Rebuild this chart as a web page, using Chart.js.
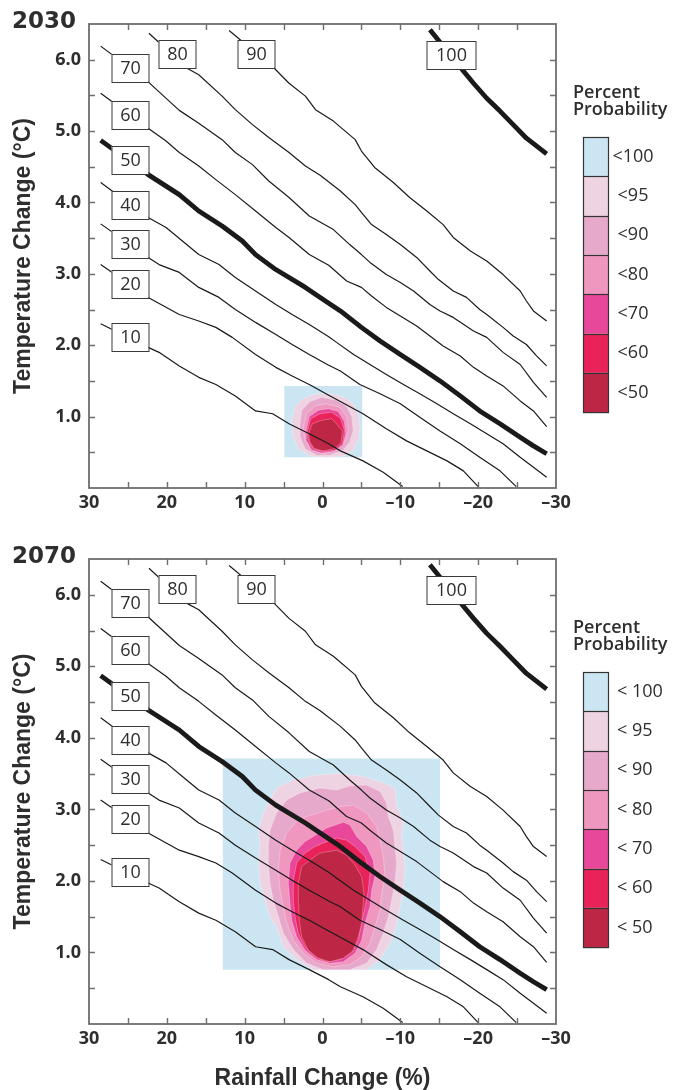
<!DOCTYPE html>
<html>
<head>
<meta charset="utf-8">
<script src="https://cdn.jsdelivr.net/npm/chart.js@4.4.0/dist/chart.umd.min.js"></script>
<style>
  body { margin: 0; background: #fff; }
  #wrap { position: relative; width: 685px; height: 1090px; }
  canvas { position: absolute; left: 0; }
  #c1 { top: 0; }
  #c2 { top: 535px; }
</style>
</head>
<body>
<div id="wrap">
  <canvas id="c1" width="685" height="535"></canvas>
  <canvas id="c2" width="685" height="555"></canvas>
</div>
<script>
// ---- data (rainfall change %, temperature change degC) ----
const xTickValues = [30, 20, 10, 0, -10, -20, -30];
const xTickLabels = ['30', '20', '10', '0', '\u201310', '\u201320', '\u201330'];
const yTickValues = [1, 2, 3, 4, 5, 6];
const yTickLabels = ['1.0', '2.0', '3.0', '4.0', '5.0', '6.0'];

const contourLevels = [10, 20, 30, 40, 50, 60, 70, 80, 90, 100];
const c10 = [[28.5,2.30],[22.4,1.97],[21.0,1.90],[18.4,1.71],[15.9,1.55],[13.7,1.45],[11.2,1.29],[8.6,1.08],[6.4,1.04],[4.3,0.90],[1.7,0.76],[-0.8,0.62],[-2.3,0.52],[-5.2,0.38],[-7.8,0.22],[-10.3,0.02]];
const c20 = [[28.5,3.13],[22.4,2.67],[18.4,2.43],[15.9,2.34],[13.7,2.25],[11.6,2.11],[8.6,1.87],[6.0,1.69],[3.9,1.57],[1.7,1.45],[-0.8,1.30],[-5.2,1.04],[-8.2,0.83],[-10.8,0.66],[-13.4,0.52],[-16.0,0.38],[-18.1,0.24],[-20.0,0.02]];
const c30 = [[28.5,3.70],[22.4,3.23],[21.0,3.13],[18.4,3.02],[15.9,2.81],[13.3,2.67],[11.2,2.50],[8.6,2.32],[6.0,2.15],[3.9,2.01],[1.7,1.87],[-0.8,1.72],[-2.3,1.64],[-4.8,1.45],[-7.4,1.32],[-10.0,1.18],[-12.5,0.99],[-15.1,0.80],[-17.7,0.62],[-20.2,0.43],[-22.8,0.24],[-24.9,0.02]];
const c40 = [[28.5,4.28],[22.4,3.79],[20.1,3.65],[18.0,3.46],[15.9,3.27],[13.3,3.13],[11.2,2.95],[8.6,2.76],[6.0,2.57],[3.9,2.43],[1.7,2.29],[-0.8,2.12],[-1.8,2.04],[-4.0,1.87],[-6.1,1.73],[-8.2,1.59],[-10.4,1.45],[-12.5,1.32],[-14.7,1.18],[-16.8,1.04],[-19.0,0.90],[-21.1,0.76],[-23.2,0.62],[-25.4,0.43],[-27.1,0.29],[-28.8,0.15]];
const c50 = [[28.5,4.87],[22.4,4.39],[18.4,4.11],[15.9,3.88],[12.9,3.67],[10.3,3.46],[8.6,3.27],[6.0,3.06],[2.2,2.81],[0.3,2.67],[-2.3,2.48],[-5.0,2.25],[-7.4,2.06],[-10.0,1.87],[-12.5,1.69],[-15.1,1.50],[-17.7,1.29],[-20.2,1.08],[-22.8,0.90],[-25.4,0.71],[-27.1,0.59],[-28.8,0.48]];
const c60 = [[28.5,5.53],[22.4,5.04],[20.1,4.86],[18.4,4.70],[15.9,4.51],[13.7,4.32],[11.2,4.11],[8.6,3.88],[6.0,3.65],[4.3,3.51],[1.7,3.27],[-0.8,3.12],[-3.1,2.90],[-5.0,2.81],[-6.3,2.69],[-8.2,2.53],[-10.0,2.41],[-12.1,2.27],[-13.8,2.13],[-15.5,1.99],[-17.7,1.85],[-19.4,1.69],[-21.1,1.57],[-23.2,1.43],[-25.4,1.22],[-27.1,1.08],[-28.8,0.86]];
const c70 = [[28.5,6.19],[22.4,5.69],[18.4,5.29],[15.9,5.11],[12.9,4.88],[11.2,4.70],[9.0,4.53],[6.9,4.30],[4.3,4.07],[1.7,3.81],[-1.4,3.62],[-3.5,3.41],[-5.0,3.27],[-6.1,3.16],[-8.2,2.99],[-10.0,2.88],[-11.7,2.76],[-13.8,2.57],[-15.1,2.48],[-16.8,2.39],[-19.4,2.20],[-21.1,2.11],[-23.2,1.90],[-25.4,1.73],[-27.1,1.48],[-28.8,1.27]];
const c80 = [[22.3,6.37],[17.4,5.88],[15.9,5.79],[12.9,5.49],[11.2,5.30],[9.0,5.09],[6.9,4.91],[4.3,4.70],[2.2,4.51],[0.3,4.38],[-2.3,4.16],[-4.2,3.97],[-5.0,3.86],[-6.3,3.69],[-8.2,3.55],[-10.0,3.41],[-12.1,3.23],[-13.8,3.04],[-14.9,2.92],[-16.8,2.76],[-18.5,2.67],[-20.2,2.50],[-21.1,2.43],[-23.2,2.25],[-24.5,2.13],[-26.2,2.01],[-27.5,1.85],[-28.8,1.71]];
const c90 = [[12.0,6.41],[6.2,5.88],[4.3,5.67],[2.2,5.49],[0.9,5.30],[-1.4,5.14],[-4.2,4.88],[-5.0,4.72],[-6.7,4.49],[-9.1,4.28],[-11.2,4.07],[-13.4,3.88],[-15.5,3.69],[-16.8,3.51],[-19.0,3.32],[-21.1,3.18],[-23.2,2.99],[-25.4,2.76],[-26.2,2.62],[-27.1,2.48],[-28.8,2.34]];
const c100 = [[-13.8,6.42],[-18.1,5.84],[-19.4,5.67],[-21.1,5.46],[-22.8,5.28],[-24.5,5.09],[-26.2,4.90],[-28.8,4.68]];
const contours = [c10, c20, c30, c40, c50, c60, c70, c80, c90, c100];

// where each contour carries its label
const labelX = [24.75, 24.75, 24.75, 24.75, 24.75, 24.75, 24.75, 18.65, 8.54, -16.5];
const labelY = [2.12, 2.86, 3.42, 3.97, 4.59, 5.23, 5.88, 6.08, 6.08, 6.07];

// probability regions, 2030
const r30 = [[4.9,1.43],[-5.1,1.43],[-5.1,0.43],[4.9,0.43]];
const b30_95 = [[3.96,0.95],[3.53,1.14],[2.46,1.25],[0.96,1.32],[-0.96,1.32],[-2.68,1.28],[-3.96,1.18],[-4.60,1.04],[-4.82,0.86],[-4.60,0.67],[-3.96,0.53],[-2.68,0.45],[-0.54,0.43],[1.61,0.45],[3.10,0.55],[3.75,0.72]];
const b30_90 = [[2.89,0.90],[2.68,1.09],[1.61,1.21],[0.11,1.27],[-1.82,1.23],[-3.10,1.14],[-3.75,1.00],[-3.96,0.81],[-3.53,0.65],[-2.68,0.53],[-0.96,0.46],[0.75,0.46],[2.25,0.55],[2.89,0.72]];
const b30_80 = [[2.46,0.86],[2.03,1.04],[0.96,1.15],[-0.54,1.18],[-2.25,1.13],[-3.10,1.00],[-3.32,0.81],[-2.89,0.65],[-1.82,0.53],[-0.11,0.48],[1.39,0.53],[2.25,0.67]];
const b30_70 = [[2.10,0.81],[1.70,1.00],[0.54,1.09],[-0.75,1.11],[-2.03,1.07],[-2.80,0.93],[-3.00,0.76],[-2.60,0.60],[-1.39,0.51],[0.11,0.49],[1.39,0.53],[2.00,0.65]];
const b30_60 = [[1.95,0.79],[1.50,0.97],[0.32,1.04],[-1.18,1.06],[-2.30,0.98],[-2.80,0.81],[-2.60,0.63],[-1.61,0.53],[-0.11,0.51],[1.18,0.55],[1.80,0.66]];
const b30_50 = [[1.80,0.76],[1.30,0.90],[0.10,0.95],[-1.20,0.97],[-1.80,0.90],[-2.55,0.80],[-2.40,0.64],[-1.50,0.55],[-0.10,0.52],[1.00,0.55],[1.60,0.64]];

// probability regions, 2070
const r70 = [[12.8,3.71],[-15.1,3.71],[-15.1,0.76],[12.8,0.76]];
const b70_95 = [[0.75,3.48],[-2.25,3.50],[-5.25,3.46],[-7.82,3.37],[-9.31,3.30],[-9.53,3.04],[-10.39,2.85],[-10.17,2.62],[-10.39,2.43],[-10.60,2.15],[-10.39,1.87],[-9.96,1.64],[-9.53,1.41],[-8.67,1.13],[-7.39,0.90],[-5.67,0.76],[1.18,0.76],[3.32,0.90],[5.03,1.08],[5.89,1.35],[6.75,1.50],[7.39,1.73],[8.03,1.97],[8.24,2.25],[8.03,2.53],[8.24,2.71],[7.60,2.95],[6.75,3.13],[5.89,3.30],[3.75,3.41]];
const b70_90 = [[2.89,3.23],[0.32,3.30],[-1.82,3.27],[-3.53,3.33],[-5.67,3.34],[-7.39,3.25],[-8.24,3.09],[-8.46,2.90],[-9.10,2.71],[-9.31,2.48],[-9.53,2.25],[-9.31,1.97],[-8.89,1.73],[-8.46,1.50],[-7.82,1.27],[-6.96,1.04],[-5.67,0.85],[-3.53,0.76],[-0.11,0.76],[2.03,0.85],[3.75,1.04],[5.03,1.27],[5.67,1.50],[6.32,1.73],[6.75,1.97],[6.96,2.25],[6.96,2.48],[6.75,2.71],[5.89,2.95],[4.60,3.13]];
const b70_80 = [[2.03,2.90],[-0.53,2.99],[-2.25,3.04],[-3.96,3.06],[-5.67,2.95],[-6.96,2.76],[-7.39,2.57],[-7.82,2.34],[-8.03,2.06],[-7.60,1.83],[-7.39,1.59],[-6.75,1.36],[-6.10,1.13],[-5.03,0.94],[-3.53,0.83],[-1.39,0.80],[0.75,0.85],[2.46,0.99],[3.75,1.17],[4.60,1.41],[5.03,1.64],[5.46,1.87],[5.67,2.15],[5.46,2.43],[4.60,2.67],[3.32,2.83]];
const b70_70 = [[1.18,2.62],[-0.53,2.74],[-2.68,2.82],[-3.53,2.78],[-4.39,2.62],[-5.67,2.48],[-6.53,2.29],[-6.74,2.06],[-6.32,1.87],[-6.10,1.64],[-5.46,1.41],[-5.03,1.17],[-4.18,0.99],[-2.68,0.87],[-0.96,0.85],[0.75,0.90],[2.25,1.03],[3.32,1.22],[3.96,1.45],[4.18,1.69],[4.39,1.97],[4.18,2.25],[3.32,2.43],[2.25,2.55]];
const b70_60 = [[-0.11,2.53],[-1.82,2.60],[-3.10,2.57],[-4.18,2.48],[-5.46,2.34],[-6.10,2.11],[-5.89,1.87],[-5.46,1.64],[-5.03,1.41],[-4.60,1.17],[-3.75,0.99],[-2.25,0.90],[-0.53,0.87],[0.96,0.94],[2.25,1.08],[3.10,1.27],[3.53,1.50],[3.75,1.73],[3.75,2.01],[3.32,2.25],[2.25,2.39],[0.96,2.48]];
const b70_50 = [[1.61,2.29],[0.32,2.39],[-1.82,2.43],[-3.10,2.36],[-4.18,2.22],[-5.03,2.06],[-5.33,1.83],[-5.16,1.59],[-5.03,1.41],[-4.60,1.22],[-3.96,1.03],[-2.68,0.92],[-0.96,0.87],[0.54,0.92],[1.82,1.03],[2.68,1.22],[2.98,1.45],[3.06,1.69],[3.10,1.97],[2.68,2.20]];

const legend2030 = ['<100', '<95', '<90', '<80', '<70', '<60', '<50'];
const legend2070 = ['< 100', '< 95', '< 90', '< 80', '< 70', '< 60', '< 50'];

// ---- styles ----
const INK = '#2e2e2e';
const FRAME = '#6e6e6e';
const rectColor = '#cbe6f2';
const layerColors = ['#eed3e3', '#e7a9cb', '#f097c0', '#e9479a', '#e9225a', '#bd2644']; // <95 ... <50
const SANS = "'Liberation Sans', Arial, sans-serif";
const OPEN = "'Open Sans', 'Liberation Sans', sans-serif";

Chart.defaults.font.family = OPEN;
Chart.defaults.color = INK;

function xy(a) { return a.map(p => ({ x: p[0], y: p[1] })); }
function ring(a) { return xy(a.concat([a[0]])); }

function xTickText(v) {
  const i = xTickValues.indexOf(v);
  return i >= 0 ? xTickLabels[i] : '';
}
function yTickText(v) {
  const i = yTickValues.indexOf(v);
  return i >= 0 ? yTickLabels[i] : '';
}

function decoPlugin(year, legendLabels, centered) {
  return {
    id: 'deco',
    afterDatasetsDraw(chart) {
      const { ctx, chartArea: a, scales: { x, y } } = chart;
      ctx.save();
      // ticks point inward on all four sides
      ctx.strokeStyle = FRAME;
      ctx.lineWidth = 1.4;
      ctx.beginPath();
      x.ticks.forEach(t => {
        if (t.value <= x.min || t.value >= x.max) return;
        const p = Math.round(x.getPixelForValue(t.value)) + 0.5;
        ctx.moveTo(p, a.bottom); ctx.lineTo(p, a.bottom - 6);
        ctx.moveTo(p, a.top); ctx.lineTo(p, a.top + 6);
      });
      y.ticks.forEach(t => {
        if (t.value <= y.min || t.value >= y.max) return;
        const p = Math.round(y.getPixelForValue(t.value)) + 0.5;
        ctx.moveTo(a.left, p); ctx.lineTo(a.left + 6, p);
        ctx.moveTo(a.right, p); ctx.lineTo(a.right - 6, p);
      });
      ctx.stroke();
      ctx.lineWidth = 1.8;
      ctx.strokeRect(a.left, a.top, a.right - a.left, a.bottom - a.top);

      // contour labels in boxes
      ctx.font = '500 18px ' + OPEN;
      ctx.textAlign = 'center';
      ctx.textBaseline = 'middle';
      contourLevels.forEach((lv, i) => {
        const cx = Math.round(x.getPixelForValue(labelX[i]));
        const cy = Math.round(y.getPixelForValue(labelY[i]));
        const w = lv === 100 ? 49 : 37, h = 28;
        ctx.fillStyle = '#fff';
        ctx.fillRect(cx - w / 2, cy - h / 2, w, h);
        ctx.strokeStyle = '#3a3a3a';
        ctx.lineWidth = 1;
        ctx.strokeRect(cx - w / 2 + 0.5, cy - h / 2 + 0.5, w, h);
        ctx.fillStyle = INK;
        ctx.fillText(String(lv), cx + 0.5, cy + 1);
      });
      ctx.restore();
    },
    afterDraw(chart) {
      const { ctx, chartArea: a } = chart;
      ctx.save();
      ctx.fillStyle = INK;
      ctx.textBaseline = 'middle';
      ctx.textAlign = 'left';
      ctx.font = "bold 23px 'DejaVu Sans', sans-serif";
      ctx.fillText(year, 12, 22);

      // colour key
      const kx = a.right + 17;
      ctx.font = '600 18px ' + OPEN;
      ctx.fillText('Percent', kx, 93);
      ctx.fillText('Probability', kx, 110);
      const bx = a.right + 27, bw = 25, bh = 39.3, by = 137;
      const cols = [rectColor].concat(layerColors);
      ctx.font = '500 18px ' + OPEN;
      legendLabels.forEach((lab, i) => {
        const top = by + i * bh;
        ctx.fillStyle = cols[i];
        ctx.fillRect(bx, top, bw, bh);
        ctx.fillStyle = INK;
        if (centered) {
          ctx.textAlign = 'center';
          ctx.fillText(lab, bx + bw + 25, top + bh / 2);
        } else {
          ctx.textAlign = 'left';
          ctx.fillText(lab, bx + bw + 9, top + bh / 2);
        }
      });
      ctx.strokeStyle = '#333';
      ctx.lineWidth = 1.2;
      for (let i = 1; i < legendLabels.length; i++) {
        const yy = Math.round(by + i * bh) + 0.5;
        ctx.beginPath(); ctx.moveTo(bx, yy); ctx.lineTo(bx + bw, yy); ctx.stroke();
      }
      ctx.strokeRect(bx + 0.5, by + 0.5, bw, bh * legendLabels.length);
      ctx.restore();
    }
  };
}

function buildChart(id, year, rect, layers, legendLabels, centered, xTitle, xHeight) {
  const datasets = [];
  contourLevels.forEach((lv, i) => {
    datasets.push({
      label: lv + '%', data: xy(contours[i]), showLine: true, fill: false,
      borderColor: '#1a1a1a', borderWidth: (lv === 50 || lv === 100) ? 4.8 : 1.2,
      pointRadius: 0, tension: 0, borderJoinStyle: 'round'
    });
  });
  // innermost region first so that it is painted last
  for (let k = layers.length - 1; k >= 0; k--) {
    datasets.push({
      data: ring(layers[k]), showLine: true, fill: 'shape',
      backgroundColor: layerColors[k], borderColor: 'rgba(255,255,255,0.45)', borderWidth: 0.6,
      pointRadius: 0, tension: 0
    });
  }
  datasets.push({
    data: ring(rect), showLine: true, fill: 'shape',
    backgroundColor: rectColor, borderWidth: 0, pointRadius: 0
  });

  return new Chart(document.getElementById(id), {
    type: 'scatter',
    data: { datasets },
    options: {
      responsive: false,
      animation: false,
      devicePixelRatio: 1,
      events: [],
      layout: { padding: { top: 24, right: 129, bottom: 0, left: 0 } },
      plugins: { legend: { display: false }, tooltip: { enabled: false } },
      scales: {
        x: {
          type: 'linear', min: -30, max: 30, reverse: true,
          afterFit: s => { s.height = xHeight; },
          grid: { display: false, drawTicks: false },
          border: { display: false },
          ticks: {
            stepSize: 5, autoSkip: false, maxRotation: 0, padding: 4,
            font: { size: 18, weight: 'bold' }, color: INK,
            callback: v => xTickText(v)
          },
          title: {
            display: !!xTitle, text: xTitle || '', color: INK, padding: 0,
            font: { family: SANS, size: 23, weight: 'bold', lineHeight: 1 }
          }
        },
        y: {
          type: 'linear', min: 0, max: 6.5,
          afterFit: s => { s.width = 89; },
          grid: { display: false, drawTicks: false },
          border: { display: false },
          ticks: {
            stepSize: 0.5, autoSkip: false, padding: 8,
            font: { size: 18, weight: 'bold' }, color: INK,
            callback: v => yTickText(v)
          },
          title: {
            display: true, text: 'Temperature Change (\u00b0C)', color: INK,
            padding: { top: 10, bottom: 0 },
            font: { family: SANS, size: 23, weight: 'bold', lineHeight: 1.2 }
          }
        }
      }
    },
    plugins: [decoPlugin(year, legendLabels, centered)]
  });
}

buildChart('c1', '2030', r30, [b30_95, b30_90, b30_80, b30_70, b30_60, b30_50], legend2030, true, null, 47);
buildChart('c2', '2070', r70, [b70_95, b70_90, b70_80, b70_70, b70_60, b70_50], legend2070, false, 'Rainfall Change (%)', 66);
</script>
</body>
</html>
